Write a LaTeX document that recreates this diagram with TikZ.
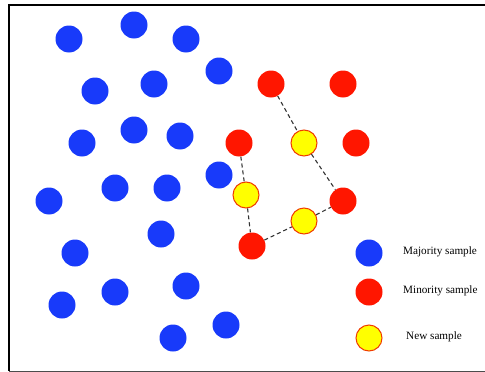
\documentclass[tikz,border=0pt]{standalone}
\usepackage{fontspec}
\setmainfont{Liberation Serif}
\usetikzlibrary{positioning}
\definecolor{MajBlue}{RGB}{24,58,250}
\definecolor{MinRed}{RGB}{255,22,0}
\definecolor{NewYellow}{RGB}{255,255,0}
\definecolor{NewEdge}{RGB}{240,60,0}
\begin{document}
\begin{tikzpicture}[x=1pt,y=-1pt,
  major/.style={circle,fill=MajBlue,minimum size=27pt,inner sep=0pt},
  minor/.style={circle,fill=MinRed,minimum size=27pt,inner sep=0pt},
  newsmp/.style={circle,fill=NewYellow,draw=NewEdge,line width=1pt,minimum size=26pt,inner sep=0pt},
  link/.style={dashed,line width=1.1pt,black!80,dash pattern=on 4pt off 3pt},
  legtext/.style={font=\fontsize{11.2}{13}\selectfont,anchor=west,inner sep=0pt}]
  \useasboundingbox (0,0) rectangle (485,372);
  % frame
  \draw[line width=1.8pt] (485,5) -- (9,5) -- (9,371);
  \draw[line width=1pt,black!70] (9,371) -- (485,371);
  % majority samples
  \foreach \x/\y [count=\i] in {69/39,134/25,186/39,219/71,95/91,154/84,82/143,
      134/130,180/136,219/175,49/201,115/188,167/188,161/234,75/253,62/305,
      115/292,186/286,173/338,226/325}
    \node[major] (b\i) at (\x,\y) {};
  % minority samples
  \node[minor] (r1) at (271,84) {};
  \node[minor] (r2) at (343,84) {};
  \node[minor] (r3) at (239,143) {};
  \node[minor] (r4) at (356,143) {};
  \node[minor] (r5) at (343,201) {};
  \node[minor] (r6) at (252,246) {};
  % synthetic samples
  \node[newsmp] (y1) at (304,143) {};
  \node[newsmp] (y2) at (246,195) {};
  \node[newsmp] (y3) at (304,221) {};
  \draw[link] (r1) -- (y1) -- (r5);
  \draw[link] (r3) -- (y2) -- (r6) -- (y3) -- (r5);
  % legend
  \node[major] (lb) at (369,253) {};
  \node[minor] (lr) at (369,292) {};
  \node[newsmp] (ly) at (369,338) {};
  \node[legtext] (tb) at (403,252) {Majority sample};
  \node[legtext] (tr) at (403,291) {Minority sample};
  \node[legtext] (ty) at (406,337) {New sample};
\end{tikzpicture}
\end{document}
